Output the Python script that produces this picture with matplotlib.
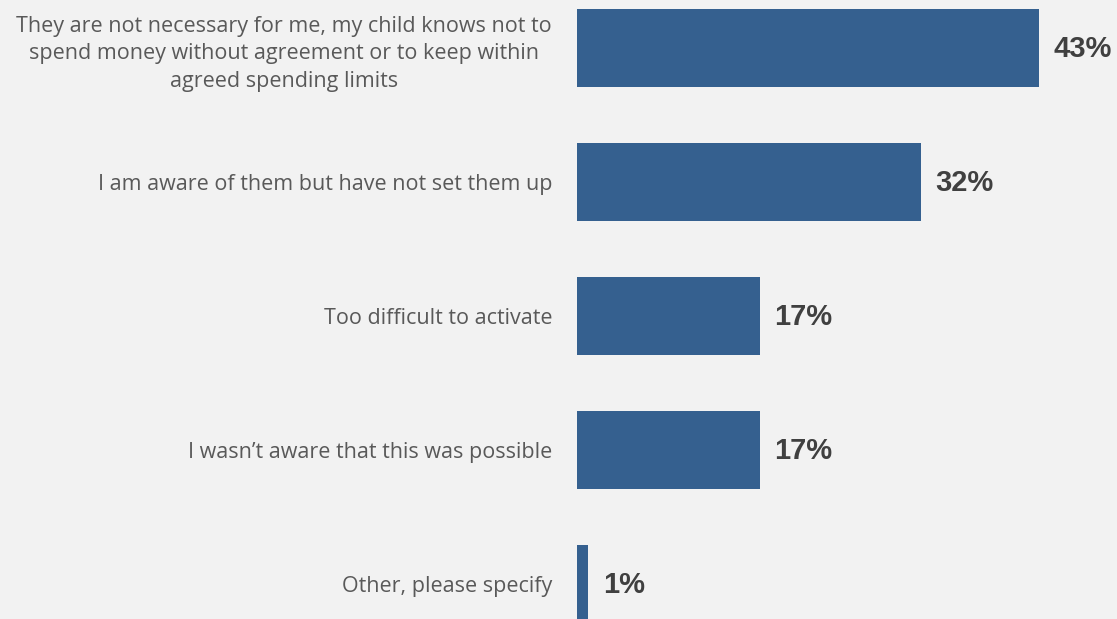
import matplotlib
matplotlib.use("Agg")
import matplotlib.pyplot as plt

# survey answers and shares (%)
labels = [
    "They are not necessary for me, my child knows not to\nspend money without agreement or to keep within\nagreed spending limits",
    "I am aware of them but have not set them up",
    "Too difficult to activate",
    "I wasn\u2019t aware that this was possible",
    "Other, please specify",
]
values = [43, 32, 17, 17, 1]

bg = "#f2f2f2"
bar_color = "#35608f"

fig = plt.figure(figsize=(11.17, 6.19), dpi=100)
fig.patch.set_facecolor(bg)
ax = fig.add_axes([577 / 1117, 0, 540 / 1117, 1])
ax.set_facecolor(bg)

pos = list(range(len(values)))
bars = ax.barh(pos, values, height=0.575, color=bar_color)

ax.set_xlim(0, 50.3)
ax.set_ylim(4.261, -0.358)

ax.set_yticks(pos)
ax.set_yticklabels(labels, fontsize=15.5, family="Open Sans", color="#595959",
                   multialignment="center", linespacing=1.4)
ax.tick_params(axis="y", length=0, pad=18)
ax.set_xticks([])
for s in ax.spines.values():
    s.set_visible(False)

# value labels next to the bars
for b, v in zip(bars, values):
    ax.annotate(f"{v}%", (b.get_width(), b.get_y() + b.get_height() / 2),
                xytext=(15, -1), textcoords="offset pixels",
                va="center", ha="left", fontsize=21, fontweight="bold",
                family="Liberation Sans", color="#404040")

fig.savefig("out.png", dpi=100, facecolor=bg)
